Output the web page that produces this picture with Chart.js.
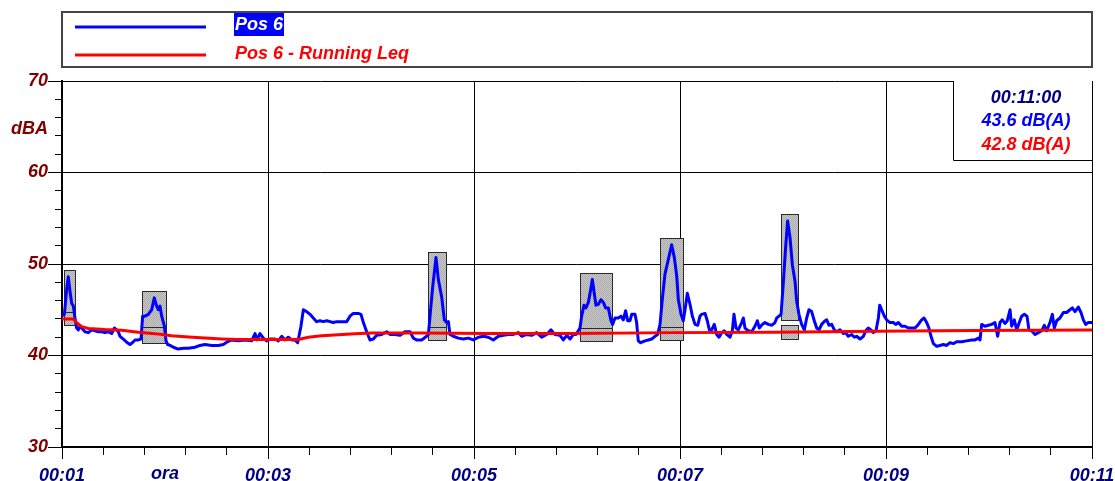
<!DOCTYPE html>
<html>
<head>
<meta charset="utf-8">
<script src="https://cdn.jsdelivr.net/npm/chart.js@4.4.1/dist/chart.umd.min.js"></script>
<style>
  html, body { margin: 0; padding: 0; background: #fff; }
  #wrap { width: 1115px; height: 481px; position: relative; }
</style>
</head>
<body>
<div id="wrap"><canvas id="noiseChart"></canvas></div>
<script>
// time axis is in minutes of the clock (00:01 -> 1, 00:11 -> 11)
const levelTimes = [
  1.010, 1.023, 1.045, 1.061, 1.078, 1.094, 1.110, 1.126, 1.142, 1.159,
  1.175, 1.191, 1.223, 1.256, 1.288, 1.320, 1.353, 1.385, 1.417, 1.450,
  1.482, 1.508, 1.531, 1.547, 1.563, 1.595, 1.628, 1.660, 1.683, 1.709,
  1.741, 1.767, 1.783, 1.806, 1.838, 1.871, 1.896, 1.919, 1.935, 1.951,
  1.968, 1.994, 2.010, 2.026, 2.049, 2.081, 2.129, 2.178, 2.227, 2.291,
  2.340, 2.388, 2.453, 2.518, 2.566, 2.599, 2.647, 2.712, 2.777, 2.841,
  2.874, 2.896, 2.922, 2.955, 2.987, 3.019, 3.068, 3.100, 3.133, 3.165,
  3.197, 3.230, 3.262, 3.288, 3.320, 3.343, 3.375, 3.408, 3.440, 3.472,
  3.505, 3.537, 3.570, 3.602, 3.634, 3.667, 3.715, 3.764, 3.796, 3.828,
  3.877, 3.903, 3.926, 3.958, 3.990, 4.023, 4.055, 4.104, 4.152, 4.184,
  4.233, 4.282, 4.330, 4.379, 4.411, 4.443, 4.492, 4.540, 4.557, 4.573,
  4.599, 4.631, 4.654, 4.686, 4.712, 4.735, 4.751, 4.767, 4.799, 4.848,
  4.896, 4.945, 4.994, 5.042, 5.091, 5.139, 5.188, 5.236, 5.285, 5.333,
  5.382, 5.430, 5.463, 5.511, 5.560, 5.608, 5.657, 5.706, 5.748, 5.786,
  5.835, 5.867, 5.900, 5.932, 5.964, 5.990, 6.029, 6.045, 6.068, 6.087,
  6.110, 6.133, 6.149, 6.165, 6.184, 6.207, 6.233, 6.256, 6.278, 6.304,
  6.330, 6.346, 6.369, 6.401, 6.427, 6.450, 6.472, 6.492, 6.515, 6.531,
  6.563, 6.579, 6.595, 6.618, 6.660, 6.693, 6.725, 6.757, 6.783, 6.806,
  6.828, 6.854, 6.887, 6.919, 6.945, 6.968, 6.984, 7.010, 7.032, 7.049,
  7.071, 7.097, 7.120, 7.146, 7.172, 7.194, 7.210, 7.243, 7.265, 7.285,
  7.307, 7.333, 7.356, 7.379, 7.405, 7.430, 7.453, 7.485, 7.508, 7.524,
  7.544, 7.566, 7.599, 7.615, 7.631, 7.663, 7.696, 7.728, 7.751, 7.770,
  7.799, 7.825, 7.858, 7.890, 7.922, 7.939, 7.961, 7.981, 8.003, 8.026,
  8.045, 8.068, 8.091, 8.117, 8.133, 8.155, 8.181, 8.207, 8.230, 8.252,
  8.278, 8.304, 8.327, 8.350, 8.375, 8.408, 8.424, 8.447, 8.473, 8.498,
  8.521, 8.553, 8.586, 8.608, 8.634, 8.667, 8.693, 8.715, 8.748, 8.780,
  8.803, 8.828, 8.854, 8.877, 8.903, 8.926, 8.939, 8.958, 8.984, 9.006,
  9.039, 9.071, 9.094, 9.120, 9.152, 9.184, 9.217, 9.249, 9.282, 9.314,
  9.346, 9.369, 9.395, 9.417, 9.437, 9.460, 9.492, 9.524, 9.557, 9.589,
  9.621, 9.654, 9.686, 9.735, 9.783, 9.832, 9.864, 9.897, 9.913, 9.929,
  9.961, 9.994, 10.026, 10.058, 10.084, 10.107, 10.129, 10.155, 10.178, 10.204,
  10.220, 10.246, 10.269, 10.294, 10.317, 10.343, 10.369, 10.388, 10.414, 10.447,
  10.479, 10.511, 10.537, 10.560, 10.592, 10.615, 10.634, 10.657, 10.689, 10.722,
  10.754, 10.786, 10.809, 10.835, 10.867, 10.893, 10.916, 10.938, 10.964, 11.000
];
const levelValues = [
  44.4, 44.5, 47.2, 48.6, 47.0, 45.7, 45.4, 44.1, 43.0, 42.8,
  43.2, 43.0, 42.6, 42.5, 42.8, 42.7, 42.6, 42.6, 42.5, 42.6,
  42.4, 43.0, 42.8, 42.6, 42.1, 41.8, 41.45, 41.2, 41.4, 41.7,
  41.7, 41.8, 44.3, 44.3, 44.5, 45.0, 46.3, 45.4, 45.0, 45.4,
  44.3, 43.2, 41.6, 41.2, 41.1, 40.9, 40.7, 40.8, 40.8, 40.9,
  41.1, 41.2, 41.1, 41.1, 41.2, 41.45, 41.7, 41.6, 41.7, 41.6,
  42.4, 41.7, 42.4, 41.9, 41.6, 41.8, 41.8, 41.6, 42.1, 41.7,
  42.0, 41.7, 41.7, 41.4, 43.2, 45.0, 44.8, 44.5, 44.1, 43.7,
  43.8, 43.7, 43.8, 43.7, 43.6, 43.7, 43.7, 43.7, 44.3, 44.6,
  44.6, 44.5, 43.6, 42.6, 41.7, 41.8, 42.2, 42.3, 42.6, 42.3,
  42.3, 42.2, 42.6, 42.6, 41.9, 41.7, 41.7, 42.1, 42.3, 44.3,
  47.5, 50.7, 48.3, 46.4, 43.9, 43.6, 43.7, 42.3, 42.1, 41.9,
  41.8, 41.9, 41.7, 42.0, 42.1, 42.0, 41.7, 42.1, 42.2, 42.3,
  42.3, 42.5, 42.1, 42.3, 42.2, 42.5, 42.0, 42.3, 42.8, 42.3,
  42.2, 41.7, 42.2, 41.8, 42.3, 42.3, 43.0, 44.3, 45.5, 45.2,
  45.8, 47.2, 48.3, 47.0, 45.5, 45.6, 46.1, 45.8, 45.2, 45.2,
  43.8, 43.4, 44.1, 44.1, 44.3, 43.9, 44.9, 43.8, 43.8, 44.5,
  44.5, 43.6, 41.6, 41.4, 41.6, 41.7, 41.8, 42.1, 42.3, 43.4,
  46.1, 48.9, 50.5, 52.1, 50.7, 48.7, 46.1, 44.5, 43.8, 45.0,
  46.8, 45.6, 44.3, 43.4, 43.3, 44.3, 44.5, 44.6, 43.8, 42.8,
  42.8, 43.4, 42.3, 42.0, 42.5, 42.7, 42.3, 42.0, 42.7, 44.5,
  43.0, 42.8, 43.6, 44.1, 43.0, 42.7, 42.6, 43.2, 43.8, 43.0,
  43.4, 43.6, 43.4, 43.3, 43.6, 44.1, 44.3, 44.5, 47.9, 51.9,
  54.7, 52.9, 49.9, 48.1, 45.9, 44.5, 43.4, 42.8, 44.1, 45.0,
  44.8, 43.8, 43.0, 42.8, 43.4, 43.8, 43.9, 43.3, 43.4, 42.8,
  42.6, 42.8, 42.4, 42.5, 42.1, 42.3, 42.0, 42.1, 41.8, 42.1,
  42.7, 43.0, 42.8, 42.5, 42.7, 44.1, 45.5, 45.0, 44.3, 43.9,
  43.6, 43.6, 43.4, 43.6, 43.2, 43.2, 43.0, 43.0, 43.0, 43.4,
  43.9, 44.1, 43.6, 43.0, 42.1, 41.3, 41.0, 41.1, 41.2, 41.1,
  41.4, 41.3, 41.5, 41.5, 41.6, 41.7, 41.7, 41.9, 41.7, 43.4,
  43.2, 43.3, 43.4, 43.6, 42.1, 43.6, 43.9, 43.5, 43.8, 45.0,
  43.2, 43.9, 42.8, 43.6, 44.3, 44.5, 44.3, 42.8, 42.7, 42.3,
  42.5, 42.7, 43.3, 42.7, 43.6, 44.5, 43.0, 43.8, 44.1, 44.7,
  44.7, 45.0, 45.2, 44.8, 45.3, 44.7, 43.9, 43.4, 43.6, 43.6
];

const leqTimes = [
  1.000, 1.110, 1.142, 1.191, 1.256, 1.417, 1.579, 1.741, 1.903, 2.065,
  2.227, 2.388, 2.550, 2.712, 3.036, 3.294, 3.392, 3.521, 3.683, 3.845,
  4.006, 4.492, 5.139, 5.948, 6.951, 7.922, 8.893, 9.864, 11.000
];
const leqValues = [
  44.0, 44.0, 43.6, 43.15, 42.95, 42.83, 42.75, 42.54, 42.39, 42.17,
  42.03, 41.92, 41.81, 41.74, 41.74, 41.74, 41.99, 42.17, 42.28, 42.39,
  42.46, 42.46, 42.4, 42.4, 42.5, 42.55, 42.66, 42.73, 42.8
];

// marked events (grey boxes)
const boxStart  = [1.022, 1.774, 4.556, 6.029, 6.806, 7.977];
const boxEnd    = [1.126, 2.007, 4.725, 6.343, 7.026, 8.146];
const boxTop    = [49.3, 47.0, 51.3, 49.0, 52.8, 55.5];
const boxBottom = [43.3, 41.7, 41.65, 41.65, 41.7, 43.9];
const markTop    = [44.8, 43.1, 43.1, 43.0, 43.1, 43.3];
const markBottom = [43.3, 41.4, 41.65, 41.6, 41.7, 41.85];

const seriesNames = ['Pos 6', 'Pos 6 - Running Leq'];
const xLabelMinutes = [1, 3, 5, 7, 9, 11];
const xLabelTexts = ['00:01', '00:03', '00:05', '00:07', '00:09', '00:11'];
const readoutTexts = ['00:11:00', '43.6 dB(A)', '42.8 dB(A)'];

const FONT = "'Liberation Sans', Arial, Helvetica, sans-serif";
const DARK_RED = '#800000';
const NAVY = '#000080';

function isMajorX(v) {
  return xLabelMinutes.some(m => Math.abs(m - v) < 1e-6);
}

let hatch = null;
function getHatch(ctx) {
  if (hatch) return hatch;
  const c = document.createElement('canvas');
  c.width = 2; c.height = 2;
  const g = c.getContext('2d');
  g.fillStyle = '#cacaca';
  g.fillRect(0, 0, 2, 2);
  g.fillStyle = '#a9a9a9';
  g.fillRect(0, 0, 1, 1);
  g.fillRect(1, 1, 1, 1);
  hatch = ctx.createPattern(c, 'repeat');
  return hatch;
}

// grey event boxes behind the lines
const eventBoxes = {
  id: 'eventBoxes',
  beforeDatasetsDraw(chart) {
    const { ctx, scales: { x, y } } = chart;
    ctx.save();
    const rect = (x0, x1, top, bottom) => {
      const l = Math.round(x.getPixelForValue(x0)) + 0.5;
      const r = Math.round(x.getPixelForValue(x1)) + 0.5;
      const t = Math.round(y.getPixelForValue(top)) + 0.5;
      const b = Math.round(y.getPixelForValue(bottom)) + 0.5;
      ctx.fillStyle = getHatch(ctx);
      ctx.fillRect(l, t, r - l, b - t);
      ctx.strokeStyle = '#2a2a2a';
      ctx.lineWidth = 1;
      ctx.strokeRect(l, t, r - l, b - t);
    };
    for (let i = 0; i < boxStart.length; i++) {
      rect(boxStart[i], boxEnd[i], boxTop[i], boxBottom[i]);
      rect(boxStart[i], boxEnd[i], markTop[i], markBottom[i]);
    }
    ctx.restore();
  }
};

// legend box, readout box and axis titles
const overlay = {
  id: 'overlay',
  afterDraw(chart) {
    const { ctx, chartArea, scales: { x, y } } = chart;
    const ds = chart.data.datasets;
    ctx.save();
    ctx.font = 'italic bold 18px ' + FONT;
    ctx.textBaseline = 'middle';

    // legend
    ctx.strokeStyle = '#444';
    ctx.lineWidth = 2;
    ctx.strokeRect(chartArea.left, 12, chartArea.right - chartArea.left, 55);
    const rows = [27, 55];
    ds.forEach((d, i) => {
      ctx.strokeStyle = d.borderColor;
      ctx.lineWidth = 3;
      ctx.beginPath();
      ctx.moveTo(75, rows[i]);
      ctx.lineTo(206, rows[i]);
      ctx.stroke();
    });
    ctx.textAlign = 'left';
    const w0 = ctx.measureText(seriesNames[0]).width;
    ctx.fillStyle = '#0000ff';
    ctx.fillRect(234, 13, w0 + 2, 23);
    ctx.fillStyle = '#fff';
    ctx.fillText(seriesNames[0], 235, 25);
    ctx.fillStyle = '#ff0000';
    ctx.fillText(seriesNames[1], 235, 54);

    // readout box
    const bx = 953, by = chartArea.top, bw = chartArea.right - 953, bh = 79;
    ctx.fillStyle = '#fff';
    ctx.fillRect(bx, by, bw, bh);
    ctx.strokeStyle = '#000';
    ctx.lineWidth = 1;
    ctx.beginPath();
    ctx.moveTo(bx + 0.5, by);
    ctx.lineTo(bx + 0.5, by + bh + 0.5);
    ctx.lineTo(chartArea.right, by + bh + 0.5);
    ctx.stroke();
    ctx.textAlign = 'center';
    const colors = [NAVY, '#0000ff', '#ff0000'];
    const ys = [98, 121, 145];
    readoutTexts.forEach((t, i) => {
      ctx.fillStyle = colors[i];
      ctx.fillText(t, 1026, ys[i]);
    });

    // axis titles
    ctx.fillStyle = DARK_RED;
    ctx.textAlign = 'right';
    ctx.fillText('dBA', 48, y.getPixelForValue(65) + 2);
    ctx.fillStyle = NAVY;
    ctx.textAlign = 'center';
    ctx.fillText('ora', x.getPixelForValue(2), 474);
    ctx.restore();
  }
};

const ctx = document.getElementById('noiseChart').getContext('2d');

const noiseChart = new Chart(ctx, {
  type: 'line',
  data: {
    datasets: [
      {
        label: seriesNames[0],
        data: levelTimes.map((t, i) => ({ x: t, y: levelValues[i] })),
        borderColor: '#0000ff',
        borderWidth: 3,
        borderJoinStyle: 'round',
        borderCapStyle: 'round',
        pointRadius: 0,
        tension: 0,
        order: 1
      },
      {
        label: seriesNames[1],
        data: leqTimes.map((t, i) => ({ x: t, y: leqValues[i] })),
        borderColor: '#ff0000',
        borderWidth: 3,
        borderJoinStyle: 'round',
        pointRadius: 0,
        tension: 0,
        order: 0
      }
    ]
  },
  options: {
    responsive: true,
    maintainAspectRatio: false,
    animation: false,
    layout: { padding: { top: 81, right: 23, left: 0, bottom: 0 } },
    plugins: {
      legend: { display: false },
      tooltip: { enabled: false }
    },
    scales: {
      x: {
        type: 'linear',
        min: 1,
        max: 11,
        afterBuildTicks(scale) {
          const ticks = [];
          for (let k = 0; k <= 25; k++) ticks.push({ value: Math.round((1 + k * 0.4) * 1000) / 1000 });
          scale.ticks = ticks;
        },
        afterFit(scale) {
          scale.height = 34;
          scale.paddingLeft = 0;
          scale.paddingRight = 0;
        },
        ticks: {
          autoSkip: false,
          maxRotation: 0,
          padding: 6,
          color: NAVY,
          font: { family: FONT, size: 18, style: 'italic', weight: 'bold' },
          callback(v) {
            const i = xLabelMinutes.findIndex(m => Math.abs(m - v) < 1e-6);
            return i >= 0 ? xLabelTexts[i] : '';
          }
        },
        grid: {
          color: c => (c.tick && isMajorX(c.tick.value)) ? '#000' : 'rgba(0,0,0,0)',
          lineWidth: 1,
          tickColor: '#000',
          tickLength: 12,
          tickBorderDash: c => (c.tick && isMajorX(c.tick.value)) ? [] : [7, 20],
          tickBorderDashOffset: 0
        },
        border: { display: true, color: '#000', width: 2 }
      },
      y: {
        min: 30,
        max: 70,
        afterFit(scale) {
          scale.width = 62;
          scale.paddingTop = 0;
          scale.paddingBottom = 0;
        },
        ticks: {
          stepSize: 2,
          autoSkip: false,
          padding: 0,
          color: DARK_RED,
          font: { family: FONT, size: 18, style: 'italic', weight: 'bold' },
          callback: v => (v % 10 === 0 ? String(v) : '')
        },
        grid: {
          color: c => (c.tick && c.tick.value % 10 === 0) ? '#000' : 'rgba(0,0,0,0)',
          lineWidth: 1,
          tickColor: '#000',
          tickLength: 14,
          tickBorderDash: c => (c.tick && c.tick.value % 10 === 0) ? [] : [7, 7],
          tickBorderDashOffset: c => (c.tick && c.tick.value % 10 === 0) ? 0 : 7
        },
        border: { display: true, color: '#000', width: 2 }
      }
    }
  },
  plugins: [eventBoxes, overlay]
});
</script>
</body>
</html>
